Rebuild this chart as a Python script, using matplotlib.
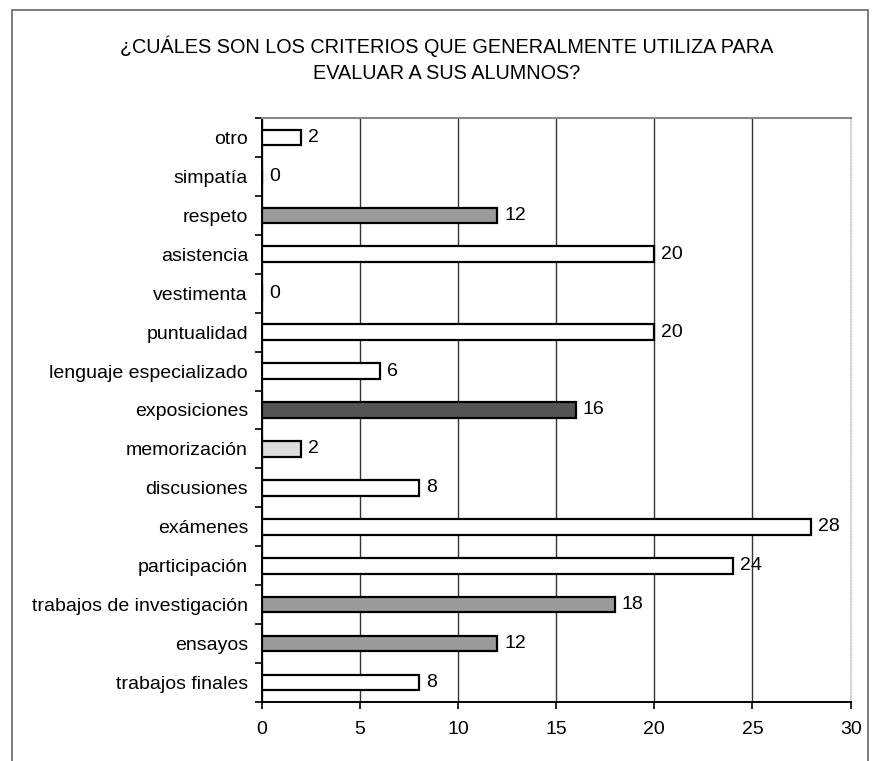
import matplotlib.pyplot as plt
import numpy as np

plt.rcParams['font.family'] = ['Liberation Sans', 'DejaVu Sans']

categories = ['trabajos finales', 'ensayos', 'trabajos de investigación', 'participación',
              'exámenes', 'discusiones', 'memorización', 'exposiciones',
              'lenguaje especializado', 'puntualidad', 'vestimenta', 'asistencia',
              'respeto', 'simpatía', 'otro']
values = [8, 12, 18, 24, 28, 8, 2, 16, 6, 20, 0, 20, 12, 0, 2]
bar_colors = ['white', '#9a9a9a', '#9a9a9a', 'white', 'white', 'white', '#dcdcdc',
              '#555555', 'white', 'white', 'white', 'white', '#9a9a9a', 'white', 'white']
title = '¿CUÁLES SON LOS CRITERIOS QUE GENERALMENTE UTILIZA PARA\nEVALUAR A SUS ALUMNOS?'


def main():
    fig = plt.figure(figsize=(8.76, 7.61), dpi=100)
    ax = fig.add_axes([0.299, 0.0775, 0.672, 0.7675])

    y = np.arange(len(categories))
    ax.barh(y, values, height=0.4, color=bar_colors, edgecolor='black', linewidth=1.6, zorder=3)
    for yi, v in zip(y, values):
        ax.text(v + 0.35, yi, str(v), va='center', ha='left', fontsize=14, zorder=4)

    ax.set_xlim(0, 30)
    ax.set_ylim(-0.5, len(categories) - 0.5)
    ax.set_xticks(np.arange(0, 31, 5))
    ax.set_yticks(y)
    ax.set_yticklabels(categories, fontsize=14)
    ax.set_yticks(np.arange(-0.5, len(categories), 1), minor=True)
    ax.tick_params(axis='y', which='major', length=0, pad=10)
    ax.tick_params(axis='y', which='minor', length=5, width=1.2)
    ax.tick_params(axis='x', labelsize=14, length=5, width=1.2, pad=9)
    ax.grid(axis='x', color='#333333', linewidth=1.0, zorder=0)
    ax.spines['top'].set_color('#888888')
    ax.spines['top'].set_linewidth(1.5)
    ax.spines['right'].set_color('#cccccc')
    ax.spines['right'].set_linestyle(':')
    ax.spines['left'].set_linewidth(1.4)
    ax.spines['bottom'].set_linewidth(1.4)

    fig.text(0.51, 0.922, title, ha='center', va='center', fontsize=14.3, linespacing=1.45)

    frame = plt.Rectangle((0.014, -0.01), 0.977, 0.997, transform=fig.transFigure,
                          fill=False, edgecolor='#666666', linewidth=1.2)
    fig.patches.append(frame)

    fig.savefig('out.png', dpi=100)


if __name__ == "__main__":
    main()
